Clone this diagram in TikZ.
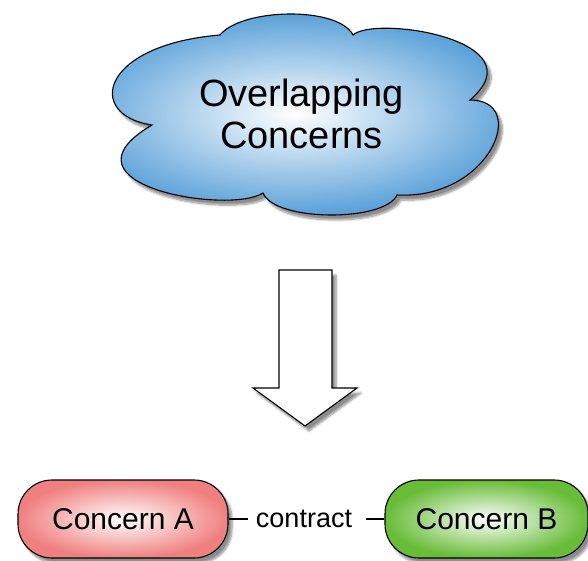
\documentclass[tikz,border=0pt]{standalone}
\usepackage{fontspec}
\setmainfont{Liberation Sans}
\usetikzlibrary{shadows.blur}

\definecolor{cloudblue}{RGB}{78,154,214}
\definecolor{concernred}{RGB}{240,128,128}
\definecolor{concerngreen}{RGB}{104,188,56}

\tikzset{
  shade3d/.style={draw=black, line width=1.1pt,
    blur shadow={shadow xshift=4pt, shadow yshift=-5pt, shadow blur steps=8, shadow opacity=45}},
  cloudshape/.style={shade3d, inner color=white, outer color=cloudblue},
  cloudtext/.style={align=center, font=\fontsize{38}{42}\selectfont},
  concern/.style={shade3d, rectangle, rounded corners=34pt, minimum height=78pt,
    inner color=white, outer color=#1, font=\fontsize{30}{36}\selectfont},
  link/.style={draw=black, line width=1.1pt},
}

\begin{document}
\begin{tikzpicture}[x=1pt, y=-1pt]
  \useasboundingbox (0,0) rectangle (588,561);

  % the cloud on top
  \draw[cloudshape] (220,35) .. controls (242,8) and (338,6) .. (353,35)
    .. controls (375,15) and (540,40) .. (470,100)
    .. controls (530,100) and (490,200) .. (397,195)
    .. controls (385,222) and (275,222) .. (263,193)
    .. controls (230,215) and (50,185) .. (152,125)
    .. controls (85,115) and (100,45) .. (220,35) -- cycle;
  \node[cloudtext] (overlap) at (301.5,114) {Overlapping\\Concerns};

  % big arrow down
  \draw[shade3d, fill=white] (279,270) -- (332,270) -- (332,388) -- (357,388)
    -- (305,426) -- (253,388) -- (279,388) -- cycle;

  % the two concerns
  \node[concern=concernred, minimum width=210pt] (concernA) at (123,519) {Concern A};
  \node[concern=concerngreen, minimum width=203pt] (concernB) at (486.5,519) {Concern B};

  \node[font=\fontsize{27}{32}\selectfont, inner xsep=8pt] (contract) at (304,519) {contract};
  \draw[link] (concernA.east) -- (contract.west);
  \draw[link, shorten <=6pt] (contract.east) -- (concernB.west);
\end{tikzpicture}
\end{document}
